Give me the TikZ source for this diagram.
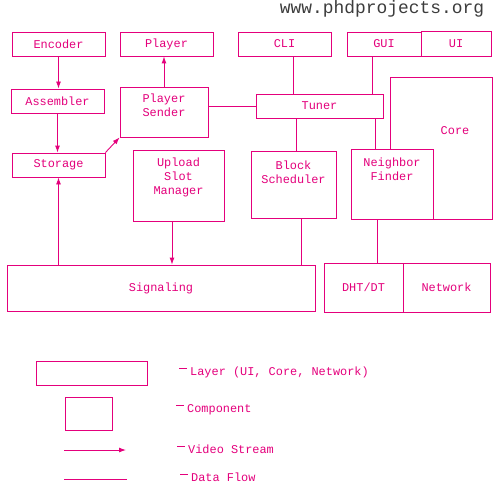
\documentclass[tikz,border=0pt]{standalone}
\usepackage{fontspec}
\setmonofont{Liberation Mono}
\usepackage{tikz}
\usetikzlibrary{arrows.meta}
\usepackage{xcolor}
\definecolor{pink}{RGB}{228,0,124}
\definecolor{mark}{RGB}{60,60,60}
\newcommand{\keydash}{\rule[6.4pt]{7.5pt}{0.9pt}\hspace{3.5pt}}

\begin{document}
\begin{tikzpicture}[
    x=1pt, y=-1pt,
    box/.style={draw=pink, line width=0.9pt, fill=white, inner sep=0pt,
                minimum width=#1, font=\fontsize{11.9}{14}\selectfont\ttfamily,
                text=pink, align=center},
    box/.default=93pt,
    top/.style 2 args={label={[anchor=north, inner sep=4pt, yshift=-#1, align=center, text=pink,
                font=\fontsize{11.9}{14}\selectfont\ttfamily]north:#2}},
    arr/.style={-{Latex[length=7pt,width=5pt]}, draw=pink, line width=0.9pt},
    line/.style={draw=pink, line width=0.9pt},
    key/.style={anchor=west, text=pink, inner sep=0pt, font=\fontsize{11.9}{14}\selectfont\ttfamily},
]
    \useasboundingbox (0,0) rectangle (500,500);

    \node[text=mark, font=\fontsize{17.9}{20}\selectfont\ttfamily] (site) at (382,8.5) {www.phdprojects.org};

    % top row
    \node[box, minimum height=24pt]             (enc)  at (58.5,44)   {Encoder};
    \node[box, minimum height=24pt]             (play) at (166.5,44)  {Player};
    \node[box, minimum height=24pt]             (cli)  at (284.5,44)  {CLI};
    \node[box=74pt, minimum height=24pt]        (gui)  at (384,44)    {GUI};
    \node[box=70pt, minimum height=25pt]        (ui)   at (456,43.5)  {UI};

    % core layer
    \node[box=102pt, minimum height=142pt,
          label={[text=pink, font=\fontsize{11.9}{14}\selectfont\ttfamily]center:\hspace{28pt}\raisebox{34pt}{Core}}]
                                                (core) at (441,148)   {};
    \node[box, minimum height=24pt]             (asm)  at (57.5,101)  {Assembler};
    \node[box=88pt, minimum height=50pt, top={3pt}{Player\\Sender}]
                                                (send) at (164,112)   {};
    \node[box=127pt, minimum height=24pt]       (tun)  at (319.5,106) {Tuner};
    \node[box, minimum height=24pt]             (sto)  at (58.5,165)  {Storage};
    \node[box=91pt, minimum height=71pt, top={4pt}{Upload\\Slot\\Manager}]
                                                (upl)  at (178.5,185.5) {};
    \node[box=85pt, minimum height=67pt, top={6pt}{Block\\Scheduler}]
                                                (blk)  at (293.5,184.5) {};
    \node[box=82pt, minimum height=70pt, top={5pt}{Neighbor\\Finder}]
                                                (nbr)  at (392,184)   {};

    % network layer
    \node[box=308pt, minimum height=46pt]       (sig)  at (161,288)   {Signaling};
    \node[box=79pt, minimum height=49pt]        (dht)  at (363.5,287.5) {DHT/DT};
    \node[box=87pt, minimum height=49pt]        (net)  at (446.5,287.5) {Network};

    \draw[arr]  (enc.south) -- (enc.south |- asm.north);
    \draw[arr]  (asm.south) -- (asm.south |- sto.north);
    \draw[arr]  (sto.north east) -- (send.south west);
    \draw[arr]  (send.north) -- (send.north |- play.south);
    \draw[line] (tun.west) -- (tun.west -| send.east);
    \draw[line] ([xshift=8.5pt]cli.south) -- ([xshift=8.5pt]cli.south |- tun.north);
    \draw[line] ([xshift=-12pt]gui.south) -- ([xshift=-12pt]gui.south |- tun.north);
    \draw[line] ([xshift=2.5pt]blk.north) -- ([xshift=2.5pt]blk.north |- tun.south);
    \draw[line] ([xshift=-17pt]nbr.north) -- ([xshift=-17pt]nbr.north |- tun.south);
    \draw[arr]  (sto.south |- sig.north) -- (sto.south);
    \draw[arr]  ([xshift=-6.5pt]upl.south) -- ([xshift=-6.5pt]upl.south |- sig.north);
    \draw[line] ([xshift=7.5pt]blk.south) -- ([xshift=7.5pt]blk.south |- sig.north);
    \draw[line] ([xshift=-15pt]nbr.south) -- ([xshift=-15pt]nbr.south |- dht.north);

    % legend
    \node[box=111pt, minimum height=24pt]       (klay) at (91.5,373)  {};
    \node[box=47pt, minimum height=33pt]        (kcmp) at (88.5,413.5) {};
    \coordinate (kva) at (64,450);
    \coordinate (kvb) at (126,450);
    \coordinate (kda) at (64,479);
    \coordinate (kdb) at (127,479);
    \draw[arr]  (kva) -- (kvb);
    \draw[line] (kda) -- (kdb);
    \node[key] (tlay) at (179,372) {\keydash Layer (UI, Core, Network)};
    \node[key] (tcmp) at (176,410) {\keydash Component};
    \node[key] (tvid) at (177,449) {\keydash Video Stream};
    \node[key] (tdat) at (180,477) {\keydash Data Flow};
\end{tikzpicture}
\end{document}
